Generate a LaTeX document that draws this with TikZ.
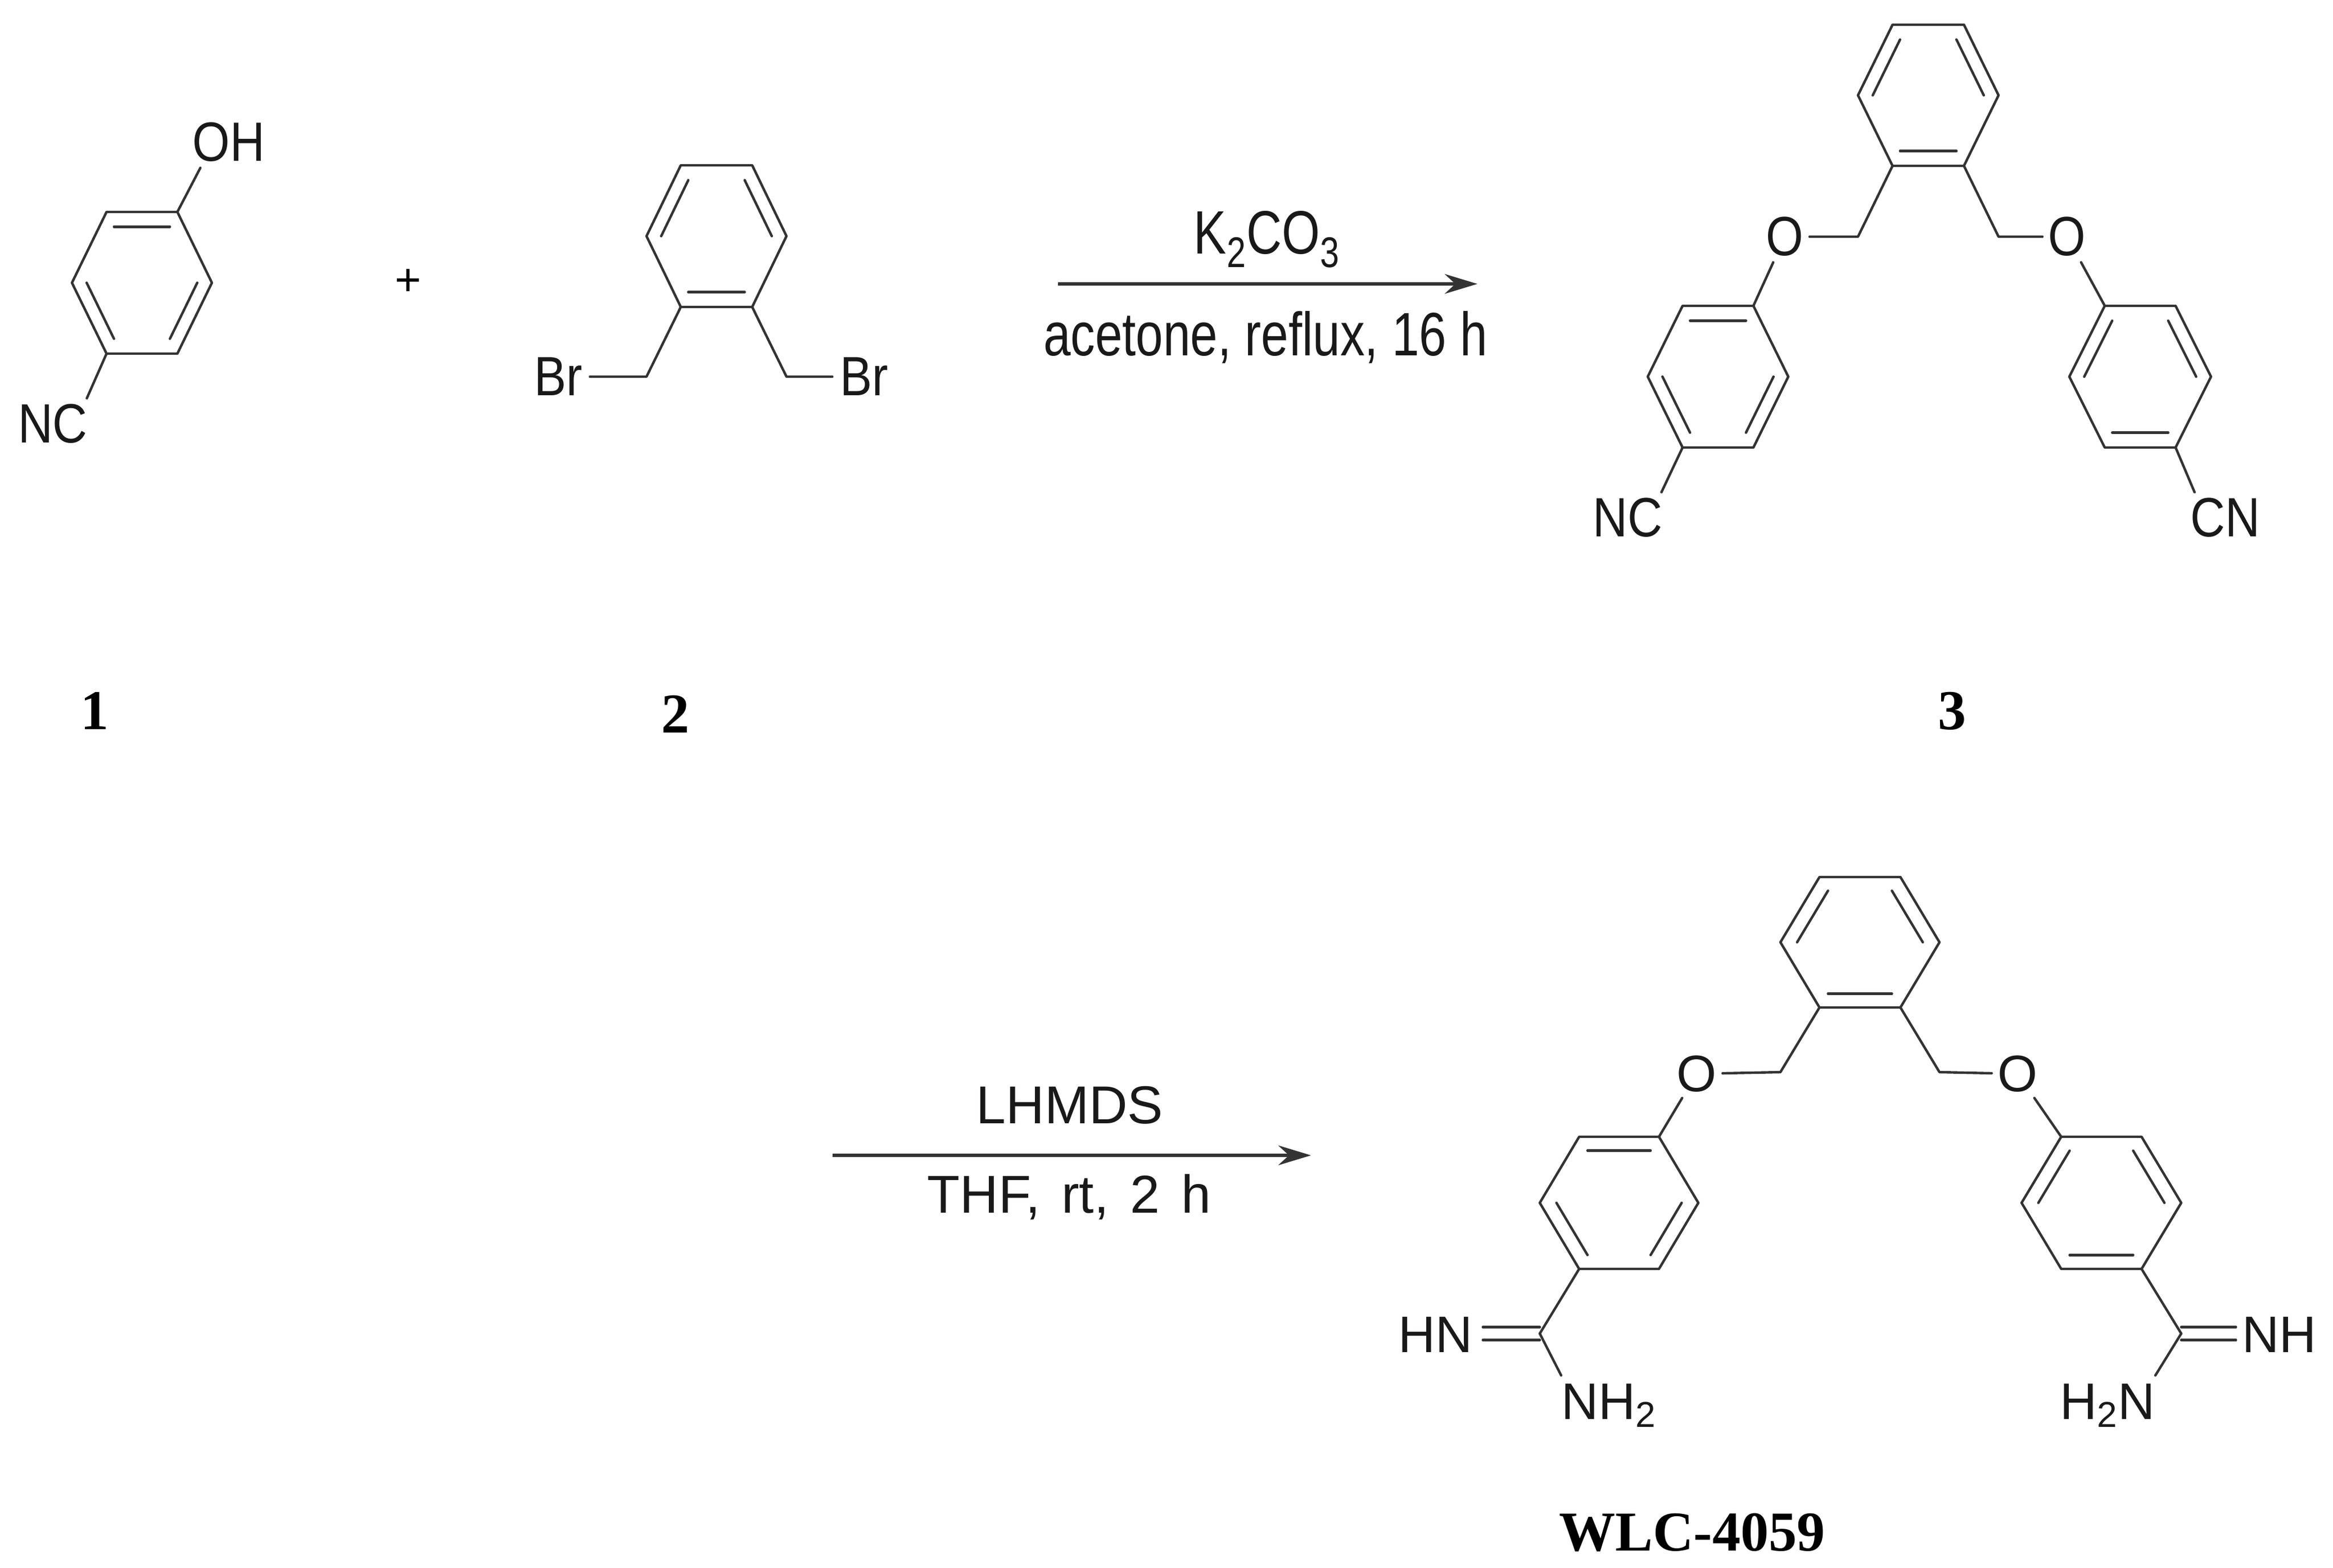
\documentclass[tikz,border=0pt]{standalone}
\usepackage{fontspec}
\usepackage{xcolor}
\usepackage{tikz}
\usetikzlibrary{calc}
\usetikzlibrary{arrows.meta}
\setmainfont{Liberation Serif}
\newfontfamily\narrowfont[FakeStretch=0.8]{Liberation Sans}
\newfontfamily\atomfont[FakeStretch=0.87]{Liberation Sans}
\newfontfamily\plainfont{Liberation Sans}
\definecolor{bondgray}{gray}{0.2}
\tikzset{
  bond/.style={draw=bondgray,line width=1.25pt,line cap=round,line join=round},
  react/.style={draw=black!80,line width=1.6pt,-{Stealth[length=.58cm,width=.35cm]}},
  atom/.style={inner sep=.1cm,text=black!90,font=\atomfont\fontsize{28}{30}\selectfont},
  atomwide/.style={inner sep=.1cm,text=black!90,font=\plainfont\fontsize{26}{28}\selectfont},
  reagent/.style={inner sep=0pt,anchor=base,text=black!90,font=\narrowfont\fontsize{31}{34}\selectfont},
  reagentwide/.style={inner sep=0pt,anchor=base,text=black!90,font=\plainfont\fontsize{27}{30}\selectfont},
  compound/.style={inner sep=0pt,anchor=base,font=\bfseries\fontsize{28.5}{30}\selectfont}
}
\newcommand{\hexring}[6]{
  \coordinate (#1c) at (#2,#3);
  \coordinate (#1tl) at ({#2-#4},{#3-#6});
  \coordinate (#1tr) at ({#2+#4},{#3-#6});
  \coordinate (#1r) at ({#2+#5},#3);
  \coordinate (#1br) at ({#2+#4},{#3+#6});
  \coordinate (#1bl) at ({#2-#4},{#3+#6});
  \coordinate (#1l) at ({#2-#5},#3);
  \draw[bond] (#1tl) -- (#1tr) -- (#1r) -- (#1br) -- (#1bl) -- (#1l) -- cycle;
}
\newcommand{\dbl}[3]{\draw[bond] ($(#1#2)!.21!(#1c)$) -- ($(#1#3)!.21!(#1c)$);}
\newcommand{\kekA}[1]{\dbl{#1}{tl}{tr} \dbl{#1}{l}{bl} \dbl{#1}{r}{br}}
\newcommand{\kekB}[1]{\dbl{#1}{tl}{l} \dbl{#1}{tr}{r} \dbl{#1}{bl}{br}}
\begin{document}
\begin{tikzpicture}[y=-1cm]
\useasboundingbox (0,0) rectangle (41.5,27.89);

\hexring{pa}{2.525}{5.03}{.63}{1.245}{1.26}
\kekA{pa}
\node[atom] (oh) at (4.07,2.53) {OH};
\node[atom] (nca) at (.94,7.54) {NC};
\draw[bond] (patr) -- (oh.222);
\draw[bond] (pabl) -- (nca.37);
\node[inner sep=0pt,font=\plainfont\fontsize{23}{25}\selectfont] (plus) at (7.26,5.02) {+};

\hexring{xy}{12.745}{4.20}{.635}{1.245}{1.26}
\kekB{xy}
\coordinate (xyml) at (11.50,6.70);
\coordinate (xymr) at (13.99,6.70);
\node[atom,inner xsep=.13cm] (bra) at (9.93,6.70) {Br};
\node[atom,inner xsep=.13cm] (brb) at (15.37,6.70) {Br};
\draw[bond] (xybl) -- (xyml) -- (bra);
\draw[bond] (xybr) -- (xymr) -- (brb);

\coordinate (arra) at (18.82,5.05);
\coordinate (arrb) at (26.28,5.05);
\draw[react] (arra) -- (arrb);
\node[reagent] (kco) at (22.54,4.52) {K\textsubscript{2}CO\textsubscript{3}};
\node[reagent] (ace) at (22.51,6.33) {acetone, reflux, 16 h};

\hexring{cc}{34.30}{1.695}{.635}{1.25}{1.255}
\kekB{cc}
\hexring{cl}{30.56}{6.70}{.63}{1.25}{1.26}
\kekA{cl}
\hexring{cr}{38.07}{6.70}{.63}{1.26}{1.26}
\kekB{cr}
\coordinate (ccml) at (33.05,4.21);
\coordinate (ccmr) at (35.55,4.21);
\node[atom] (ocl) at (31.75,4.21) {O};
\node[atom] (ocr) at (36.77,4.21) {O};
\node[atom] (ncc) at (28.95,9.21) {NC};
\node[atom] (cnc) at (39.58,9.21) {CN};
\draw[bond] (ccbl) -- (ccml) -- (ocl);
\draw[bond] (ccbr) -- (ccmr) -- (ocr);
\draw[bond] (ocl) -- (cltr);
\draw[bond] (ocr) -- (crtl);
\draw[bond] (clbl) -- (ncc.37);
\draw[bond] (crbr) -- (cnc.140);

\node[compound] (labela) at (1.69,12.97) {1};
\node[compound] (labelb) at (12.02,13.03) {2};
\node[compound] (labelc) at (34.73,12.97) {3};

\coordinate (arrc) at (14.81,20.55);
\coordinate (arrd) at (23.32,20.55);
\draw[react] (arrc) -- (arrd);
\node[reagentwide] (lhm) at (19.03,19.98) {LHMDS};
\node[reagentwide] (thf) at (19.02,21.57) {\spaceskip=.4em\relax THF, rt, 2 h};

\hexring{wc}{33.085}{16.76}{.72}{1.415}{1.16}
\kekB{wc}
\hexring{wl}{28.80}{21.395}{.71}{1.41}{1.175}
\kekA{wl}
\hexring{wr}{37.38}{21.395}{.715}{1.42}{1.175}
\kekB{wr}
\coordinate (wcml) at (31.67,19.07);
\coordinate (wcmr) at (34.50,19.07);
\coordinate (ama) at (27.39,23.72);
\coordinate (amb) at (38.80,23.72);
\node[atomwide] (owl) at (30.18,19.10) {O};
\node[atomwide] (owr) at (35.89,19.10) {O};
\node[atomwide] (hna) at (25.53,23.74) {HN};
\node[atomwide] (nhb) at (40.54,23.74) {NH};
\node[atomwide,anchor=base west,inner sep=0pt] (nha) at (27.77,25.24) {NH\textsubscript{2}};
\node[atomwide,anchor=base east,inner sep=0pt] (nhc) at (38.34,25.24) {H\textsubscript{2}N};
\draw[bond] (wcbl) -- (wcml) -- (owl);
\draw[bond] (wcbr) -- (wcmr) -- (owr);
\draw[bond] (owl) -- (wltr);
\draw[bond] (owr) -- (wrtl);
\draw[bond] (wlbl) -- (ama);
\draw[bond] (wrbr) -- (amb);
\draw[bond] ([yshift=.115cm]ama) -- ([yshift=.115cm,xshift=.08cm]ama -| hna.east);
\draw[bond] ([yshift=-.115cm]ama) -- ([yshift=-.115cm,xshift=.08cm]ama -| hna.east);
\draw[bond] ([yshift=.115cm]amb) -- ([yshift=.115cm]amb -| nhb.west);
\draw[bond] ([yshift=-.115cm]amb) -- ([yshift=-.115cm]amb -| nhb.west);
\draw[bond] (ama) -- ([yshift=.14cm]nha.north west);
\draw[bond] (amb) -- ([yshift=.14cm]nhc.north east);
\node[compound] (labeld) at (30.10,27.58) {WLC-4059};
\end{tikzpicture}
\end{document}
